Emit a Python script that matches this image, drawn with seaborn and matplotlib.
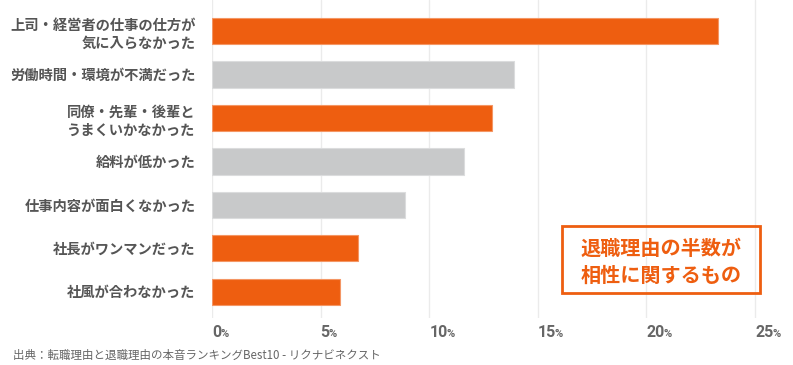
import matplotlib
matplotlib.use('Agg')
import matplotlib.pyplot as plt
import matplotlib.colors as mcolors
from matplotlib.patches import Rectangle
import seaborn as sns
import pandas as pd

categories = ["上司・経営者の仕事の仕方が\n気に入らなかった", "労働時間・環境が不満だった",
              "同僚・先輩・後輩と\nうまくいかなかった", "給料が低かった",
              "仕事内容が面白くなかった", "社長がワンマンだった", "社風が合わなかった"]
values = [23.3, 13.9, 12.9, 11.6, 8.9, 6.7, 5.9]
groups = ["相性", "その他", "相性", "その他", "その他", "相性", "相性"]
tick_values = [0, 5, 10, 15, 20, 25]
tick_labels = ["0", "5", "10", "15", "20", "25"]
annotation_lines = ["退職理由の半数が", "相性に関するもの"]
source = "出典：転職理由と退職理由の本音ランキングBest10 - リクナビネクスト"

ORANGE = "#EE5E10"
GRAY = "#C8C9CA"
palette = {"相性": ORANGE, "その他": GRAY}

df = pd.DataFrame({"category": categories, "value": values, "group": groups})

sns.set_theme(style="white")
plt.rcParams['font.family'] = ['Noto Sans CJK JP', 'DejaVu Sans']

W, H = 793, 365
fig = plt.figure(figsize=(W / 100, H / 100), dpi=100)
px_per_unit = 21.72
ax = fig.add_axes([212 / W, 1 - 318 / H, 26 * px_per_unit / W, 318 / H])

sns.barplot(data=df, x="value", y="category", hue="group", palette=palette,
            orient="h", width=0.6, dodge=False, legend=False, ax=ax,
            order=categories, saturation=1)

for p in ax.patches:
    fc = mcolors.to_rgb(p.get_facecolor())
    ec = tuple(c + (1 - c) * 0.35 for c in fc)
    p.set_edgecolor(ec)
    p.set_linewidth(0.8)

ax.set_xlim(0, 26)
ax.set_ylim(6.6, -0.713)
for s in ax.spines.values():
    s.set_visible(False)
ax.xaxis.grid(True, color="#EBEBEB", lw=1)
ax.yaxis.grid(False)
ax.set_axisbelow(True)
ax.set_xlabel("")
ax.set_ylabel("")

ax.tick_params(axis="y", length=0, pad=12, labelsize=10.3, labelcolor="#555555")
for lbl in ax.get_yticklabels():
    lbl.set_fontweight("bold")
    lbl.set_linespacing(1.4)

ax.set_xticks(tick_values)
ax.set_xticklabels(tick_labels, ha="left", fontfamily="Roboto", fontweight="bold",
                   fontsize=11.5, color="#666666")
ax.tick_params(axis="x", length=0, pad=5)
for lbl in ax.get_xticklabels():
    ax.annotate("%", xy=(1, 0), xycoords=lbl, xytext=(-0.8, 0.5),
                textcoords="offset points", ha="left", va="bottom",
                fontsize=8, fontfamily="Roboto", fontweight="bold", color="#666666")

# highlighted note
fig.patches.append(Rectangle((562 / W, 1 - 293 / H), 198 / W, 67 / H,
                             transform=fig.transFigure, fill=False,
                             edgecolor=ORANGE, lw=2))
fig.text(661 / W, 1 - 248 / H, annotation_lines[0], ha="center", va="center",
         fontsize=14.5, fontweight="bold", color=ORANGE)
fig.text(661 / W, 1 - 275 / H, annotation_lines[1], ha="center", va="center",
         fontsize=14.5, fontweight="bold", color=ORANGE)

fig.text(13 / W, 1 - 355 / H, source, ha="left", va="center", fontsize=8.3,
         color="#666666")

fig.savefig("out.png", dpi=100)
